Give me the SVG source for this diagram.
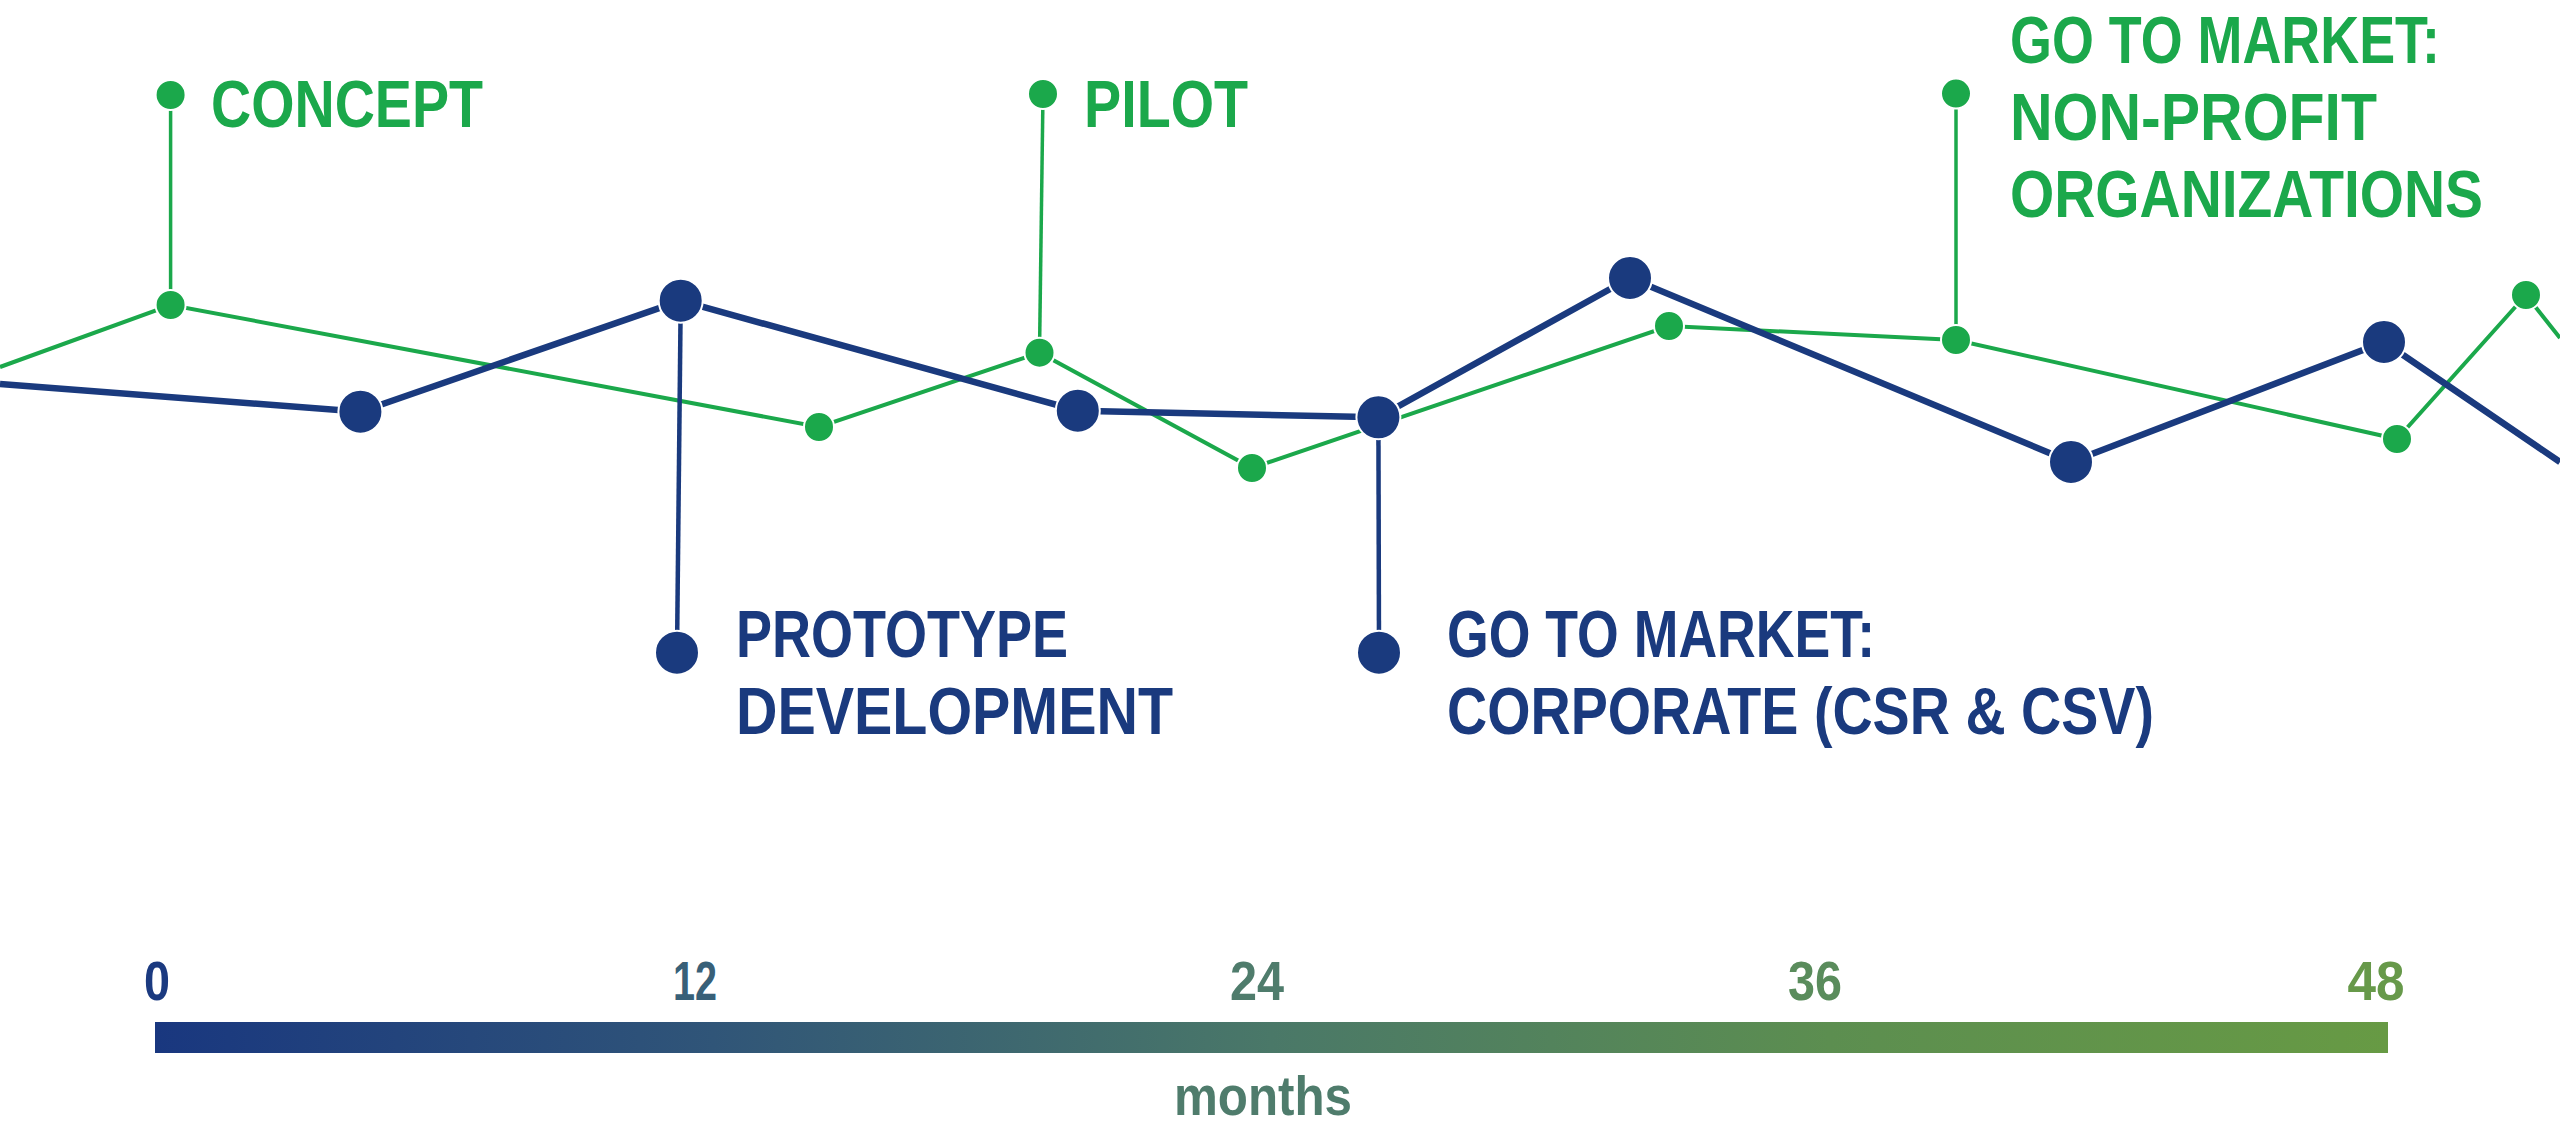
<svg xmlns="http://www.w3.org/2000/svg" width="2560" height="1124" viewBox="0 0 2560 1124">
<style>
.g{fill:#1ba84b}
.b{fill:#1a3a7e}
.gl{stroke:#1ba84b;fill:none;stroke-width:4;stroke-linejoin:miter}
.bl{stroke:#1a3a7e;fill:none;stroke-width:6.5;stroke-linejoin:miter}
.gv{stroke:#1ba84b;stroke-width:3.5;fill:none}
.bv{stroke:#1a3a7e;stroke-width:4.5;fill:none}
.gd{fill:#1ba84b;stroke:#fff;stroke-width:2}
.bd{fill:#1a3a7e;stroke:#fff;stroke-width:2}
.lbl{font-family:"Liberation Sans",Arial,sans-serif;font-weight:bold;font-size:66px}
.ax{font-family:"Liberation Sans",Arial,sans-serif;font-weight:bold;font-size:55px;text-anchor:middle}
</style>
<defs>
<linearGradient id="bar" x1="0" y1="0" x2="1" y2="0">
<stop offset="0" stop-color="#19377f"/>
<stop offset="0.25" stop-color="#305578"/>
<stop offset="0.5" stop-color="#4a7868"/>
<stop offset="0.75" stop-color="#5c8e50"/>
<stop offset="1" stop-color="#679a44"/>
</linearGradient>
</defs>
<rect width="2560" height="1124" fill="#fff"/>
<g id="connectors">
<polyline class="gl" points="0,367 170.6,305 819,427 1039.5,352.7 1252,468 1669,326 1956,340 2397,439 2526,295 2560,338"/>
<polyline class="bl" points="0,384 360.4,411.7 680.7,300.7 1077.8,410.7 1378.4,417.3 1630,278 2071,462 2384,342 2560,462"/>
<line class="gv" x1="170.6" y1="95" x2="170.6" y2="305"/>
<line class="gv" x1="1043" y1="94" x2="1039.5" y2="352.7"/>
<line class="gv" x1="1956" y1="93.6" x2="1956" y2="340"/>
<line class="bv" x1="680.7" y1="300.7" x2="677" y2="652.7"/>
<line class="bv" x1="1378.4" y1="417.3" x2="1379" y2="652.7"/>
</g>
<g id="green-points">
<circle class="gd" cx="170.6" cy="305" r="15"/>
<circle class="gd" cx="819" cy="427" r="15"/>
<circle class="gd" cx="1039.5" cy="352.7" r="15"/>
<circle class="gd" cx="1252" cy="468" r="15"/>
<circle class="gd" cx="1669" cy="326" r="15"/>
<circle class="gd" cx="1956" cy="340" r="15"/>
<circle class="gd" cx="2397" cy="439" r="15"/>
<circle class="gd" cx="2526" cy="295" r="15"/>
</g>
<g id="blue-points">
<circle class="bd" cx="360.4" cy="411.7" r="22"/>
<circle class="bd" cx="680.7" cy="300.7" r="22"/>
<circle class="bd" cx="1077.8" cy="410.7" r="22"/>
<circle class="bd" cx="1378.4" cy="417.3" r="22"/>
<circle class="bd" cx="1630" cy="278" r="22"/>
<circle class="bd" cx="2071" cy="462" r="22"/>
<circle class="bd" cx="2384" cy="342" r="22"/>
</g>
<g id="concept">
<circle class="gd" cx="170.6" cy="95" r="15"/>
<text class="lbl g" x="211" y="127" textLength="272" lengthAdjust="spacingAndGlyphs">CONCEPT</text>
</g>
<g id="pilot">
<circle class="gd" cx="1043" cy="94" r="15"/>
<text class="lbl g" x="1084" y="127" textLength="164" lengthAdjust="spacingAndGlyphs">PILOT</text>
</g>
<g id="gtm-nonprofit">
<circle class="gd" cx="1956" cy="93.6" r="15"/>
<text class="lbl g" x="2010" y="63" textLength="430" lengthAdjust="spacingAndGlyphs">GO TO MARKET:</text>
<text class="lbl g" x="2010" y="140" textLength="367" lengthAdjust="spacingAndGlyphs">NON-PROFIT</text>
<text class="lbl g" x="2010" y="217" textLength="473" lengthAdjust="spacingAndGlyphs">ORGANIZATIONS</text>
</g>
<g id="prototype">
<circle class="bd" cx="677" cy="652.7" r="22"/>
<text class="lbl b" x="736" y="657" textLength="332" lengthAdjust="spacingAndGlyphs">PROTOTYPE</text>
<text class="lbl b" x="736" y="734" textLength="437" lengthAdjust="spacingAndGlyphs">DEVELOPMENT</text>
</g>
<g id="gtm-corporate">
<circle class="bd" cx="1379" cy="652.7" r="22"/>
<text class="lbl b" x="1447" y="657" textLength="428" lengthAdjust="spacingAndGlyphs">GO TO MARKET:</text>
<text class="lbl b" x="1447" y="734" textLength="707" lengthAdjust="spacingAndGlyphs">CORPORATE (CSR &amp; CSV)</text>
</g>
<g id="axis">
<rect x="155" y="1022" width="2233" height="31" fill="url(#bar)"/>
<text class="ax" x="157" y="1000" textLength="26" lengthAdjust="spacingAndGlyphs" fill="#1b3a80">0</text>
<text class="ax" x="695" y="1000" textLength="44" lengthAdjust="spacingAndGlyphs" fill="#386078">12</text>
<text class="ax" x="1257" y="1000" textLength="54" lengthAdjust="spacingAndGlyphs" fill="#4f7c6c">24</text>
<text class="ax" x="1815" y="1000" textLength="54" lengthAdjust="spacingAndGlyphs" fill="#5a8c5c">36</text>
<text class="ax" x="2376" y="1000" textLength="57" lengthAdjust="spacingAndGlyphs" fill="#67994a">48</text>
<text class="ax" x="1263" y="1115" font-size="64" textLength="178" lengthAdjust="spacingAndGlyphs" fill="#4f7c6c">months</text>
</g>
</svg>
